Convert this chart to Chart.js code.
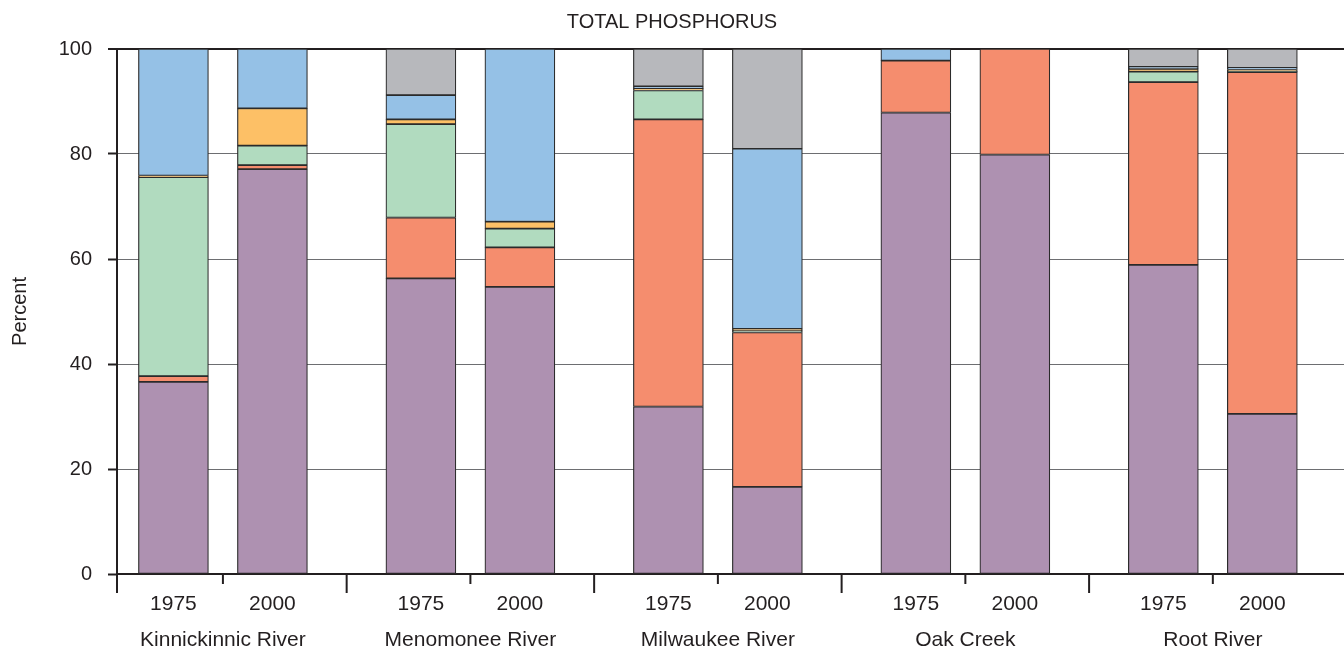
<!DOCTYPE html>
<html>
<head>
<meta charset="utf-8">
<title>Total phosphorus</title>
<script src="https://cdn.jsdelivr.net/npm/chart.js@4.4.1/dist/chart.umd.min.js"></script>
<style>
  html, body { margin: 0; padding: 0; background: #fff; }
  #wrap { position: relative; width: 1344px; height: 651px; }
</style>
</head>
<body>
<div id="wrap"><canvas id="chart"></canvas></div>
<script>
// watersheds and the two years shown for each
const rivers = ['Kinnickinnic River', 'Menomonee River', 'Milwaukee River', 'Oak Creek', 'Root River'];
const years = ['1975', '2000'];
const yTicks = [0, 20, 40, 60, 80, 100];

// percent of total phosphorus, one value per bar:
// Kinn 75, Kinn 00, Meno 75, Meno 00, Milw 75, Milw 00, Oak 75, Oak 00, Root 75, Root 00
const purpleShare = [36.6, 77.1, 56.3, 54.7, 31.9, 16.6, 87.9, 79.9, 58.9, 30.5];
const salmonShare = [1.1, 0.8, 11.6, 7.5, 54.7, 29.4, 9.9, 20.1, 34.8, 65.1];
const greenShare  = [37.9, 3.7, 17.8, 3.6, 5.5, 0.3, 0, 0, 2.0, 0.1];
const yellowShare = [0.3, 7.1, 0.9, 1.3, 0.4, 0.4, 0, 0, 0.5, 0.4];
const blueShare   = [24.1, 11.3, 4.6, 32.9, 0.4, 34.3, 2.2, 0, 0.4, 0.3];
const greyShare   = [0, 0, 8.8, 0, 7.1, 19.0, 0, 0, 3.4, 3.6];

Chart.defaults.font.family = '"Liberation Sans", Arial, Helvetica, sans-serif';
Chart.defaults.color = '#231f20';

// layout along x: each river takes 5 units, bars one unit either side of its centre
const groupX = i => 2 + 5 * i;
const barX = purpleShare.map((_, i) => groupX(Math.floor(i / 2)) + (i % 2 === 0 ? -1 : 1));
const boundsX = [4.5, 9.5, 14.5, 19.5];
const X_MIN = -0.14, X_MAX = 24.65;

const series = [
  { label: 'Source 1', values: purpleShare, color: '#ae91b1' },
  { label: 'Source 2', values: salmonShare, color: '#f58d6e' },
  { label: 'Source 3', values: greenShare,  color: '#b1dbbf' },
  { label: 'Source 4', values: yellowShare, color: '#fdc066' },
  { label: 'Source 5', values: blueShare,   color: '#95c1e6' },
  { label: 'Source 6', values: greyShare,   color: '#b7b8bc' }
];

// tick marks under the x axis: long ones between rivers, short ones at the river centres
const axisTicks = {
  id: 'axisTicks',
  afterDraw(chart) {
    const x = chart.scales.x;
    const ctx = chart.ctx;
    const y0 = chart.chartArea.bottom;
    const mark = (px, len) => {
      ctx.beginPath();
      ctx.moveTo(px, y0);
      ctx.lineTo(px, y0 + len);
      ctx.stroke();
    };
    ctx.save();
    ctx.strokeStyle = '#231f20';
    ctx.lineWidth = 2;
    mark(x.left, 19);
    boundsX.forEach(v => mark(x.getPixelForValue(v), 19));
    rivers.forEach((r, i) => mark(x.getPixelForValue(groupX(i)), 10));
    ctx.restore();
  }
};

new Chart(document.getElementById('chart'), {
  type: 'bar',
  data: {
    datasets: series.map(s => ({
      label: s.label,
      data: s.values.map((v, i) => ({ x: barX[i], y: v })),
      backgroundColor: s.color,
      borderColor: '#2b2b2b',
      borderWidth: 1.2,
      borderSkipped: false,
      barThickness: 70,
      xAxisID: 'x',
      yAxisID: 'y'
    }))
  },
  options: {
    responsive: true,
    maintainAspectRatio: false,
    animation: false,
    layout: { padding: { top: 0, right: 0, bottom: 1, left: 0 } },
    plugins: {
      legend: { display: false },
      tooltip: { enabled: false },
      title: {
        display: true,
        text: 'TOTAL PHOSPHORUS',
        color: '#231f20',
        font: { size: 20, weight: 'normal', lineHeight: 1.2 },
        padding: { top: 10, bottom: 15 }
      }
    },
    scales: {
      x: {
        type: 'linear',
        position: 'bottom',
        weight: 0,
        offset: false,
        min: X_MIN,
        max: X_MAX,
        stacked: true,
        grid: { display: false, drawTicks: false, offset: false },
        border: { display: true, color: '#231f20', width: 2 },
        afterBuildTicks: axis => { axis.ticks = barX.map(v => ({ value: v })); },
        afterFit: axis => { axis.height = 40; },
        ticks: {
          autoSkip: false,
          maxRotation: 0,
          padding: 19.5,
          color: '#231f20',
          font: { size: 21, lineHeight: 1 },
          callback: (v, i) => years[i % 2]
        }
      },
      xg: {
        type: 'linear',
        position: 'bottom',
        weight: 1,
        offset: false,
        min: X_MIN,
        max: X_MAX,
        grid: { display: false, drawTicks: false, offset: false },
        border: { display: false },
        afterBuildTicks: axis => { axis.ticks = rivers.map((r, i) => ({ value: groupX(i) })); },
        afterFit: axis => { axis.height = 36; },
        ticks: {
          autoSkip: false,
          maxRotation: 0,
          padding: 15.5,
          color: '#231f20',
          font: { size: 21, lineHeight: 1 },
          callback: (v, i) => rivers[i]
        }
      },
      y: {
        stacked: true,
        min: 0,
        max: 100,
        afterBuildTicks: axis => { axis.ticks = yTicks.map(v => ({ value: v })); },
        afterFit: axis => { axis.width = 117; },
        grid: {
          color: c => (c.tick && c.tick.value === 100 ? '#231f20' : '#6d6e71'),
          lineWidth: c => (c.tick && c.tick.value === 100 ? 2 : 1),
          drawTicks: true,
          tickLength: 9,
          tickColor: '#231f20',
          tickWidth: 2
        },
        border: { display: true, color: '#231f20', width: 2 },
        ticks: { padding: 16, color: '#231f20', font: { size: 20 } },
        title: {
          display: true,
          text: 'Percent',
          color: '#231f20',
          font: { size: 20 },
          padding: { top: 8, bottom: 0 }
        }
      }
    }
  },
  plugins: [axisTicks]
});
</script>
</body>
</html>
